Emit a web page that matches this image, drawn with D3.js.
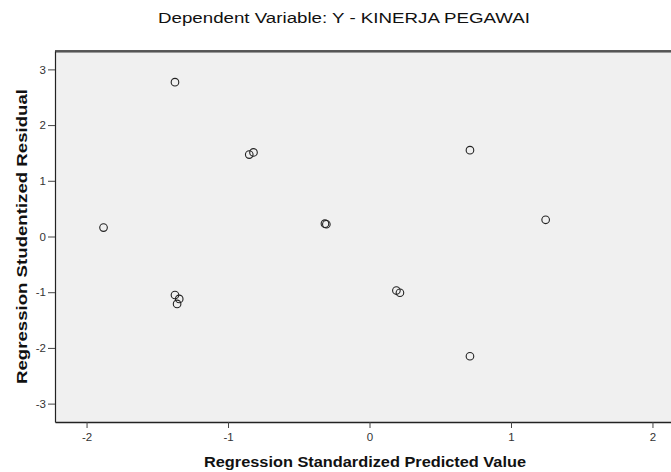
<!DOCTYPE html>
<html>
<head>
<meta charset="utf-8">
<script src="https://cdn.jsdelivr.net/npm/d3@7"></script>
<style>
  body { margin: 0; background: #fff; }
  svg { display: block; font-family: 'Liberation Sans', Arial, sans-serif; }
</style>
</head>
<body>
<svg width="671" height="472"></svg>
<script>
// predicted values (x) and studentized residuals (y)
const predicted = [-1.375, -0.85, -0.82, -1.88, -1.375, -1.345, -1.36, -0.315, -0.305, 0.71, 1.245, 0.19, 0.215, 0.71]
const residuals = [2.77, 1.47, 1.51, 0.16, -1.05, -1.12, -1.21, 0.23, 0.22, 1.55, 0.30, -0.97, -1.01, -2.15]
const xTicks = [-2, -1, 0, 1, 2]
const yTicks = [-3, -2, -1, 0, 1, 2, 3]

const points = predicted.map((p, i) => ({ x: p, y: residuals[i] }))

let svg = d3.select('svg')
let margin = { top: 51, right: 0, bottom: 50, left: 55 }
let width = +svg.attr('width') - margin.left - margin.right
let height = +svg.attr('height') - margin.top - margin.bottom

let x = d3.scaleLinear().domain([-2.223, 2.131]).range([0, width])
let y = d3.scaleLinear().domain([-3.33, 3.33]).range([height, 0])

let g = svg.append('g').attr('transform', `translate(${margin.left},${margin.top})`)

g.append('rect')
  .attr('width', width)
  .attr('height', height)
  .attr('fill', '#f0f0f0')

// top frame line, doubled like the original
g.append('line').attr('x1', 0).attr('x2', width).attr('y1', 0).attr('y2', 0)
  .attr('stroke', '#222').attr('stroke-width', 1.5)
g.append('line').attr('x1', 0).attr('x2', width).attr('y1', 1.5).attr('y2', 1.5)
  .attr('stroke', '#999').attr('stroke-width', 1)

const fmt = d => String(d)

let xAxis = g.append('g')
  .attr('transform', `translate(0,${height})`)
  .call(d3.axisBottom(x).tickValues(xTicks).tickSize(6).tickSizeOuter(0).tickFormat(fmt))
xAxis.select('.domain').attr('stroke', '#222').attr('stroke-width', 1.5)
xAxis.selectAll('.tick line').attr('stroke', '#444')
xAxis.selectAll('text').attr('font-size', '11.5px').attr('fill', '#333').attr('dy', '0.9em')
  .attr('font-family', "'Liberation Sans', Arial, sans-serif")

let yAxis = g.append('g')
  .call(d3.axisLeft(y).tickValues(yTicks).tickSize(7).tickSizeOuter(0).tickFormat(fmt))
yAxis.select('.domain').attr('stroke', '#222').attr('stroke-width', 1.2)
yAxis.selectAll('.tick line').attr('stroke', '#444')
yAxis.selectAll('text').attr('font-size', '11.5px').attr('fill', '#333').attr('x', -9)
  .attr('font-family', "'Liberation Sans', Arial, sans-serif")

g.selectAll('circle').data(points).enter().append('circle')
  .attr('cx', d => x(d.x))
  .attr('cy', d => y(d.y))
  .attr('r', 3.8)
  .attr('fill', 'none')
  .attr('stroke', '#222')
  .attr('stroke-width', 1.1)

svg.append('text')
  .attr('x', 344)
  .attr('y', 23)
  .attr('text-anchor', 'middle')
  .attr('font-size', '15.5px')
  .attr('textLength', 372)
  .attr('lengthAdjust', 'spacingAndGlyphs')
  .attr('fill', '#111')
  .text('Dependent Variable: Y - KINERJA PEGAWAI')

svg.append('text')
  .attr('x', 365)
  .attr('y', 467)
  .attr('text-anchor', 'middle')
  .attr('font-size', '14px')
  .attr('font-weight', 'bold')
  .attr('textLength', 322)
  .attr('lengthAdjust', 'spacingAndGlyphs')
  .attr('fill', '#111')
  .text('Regression Standardized Predicted Value')

svg.append('text')
  .attr('transform', `translate(27,${margin.top + height / 2}) rotate(-90)`)
  .attr('text-anchor', 'middle')
  .attr('font-size', '14px')
  .attr('font-weight', 'bold')
  .attr('textLength', 295)
  .attr('lengthAdjust', 'spacingAndGlyphs')
  .attr('fill', '#111')
  .text('Regression Studentized Residual')
</script>
</body>
</html>
